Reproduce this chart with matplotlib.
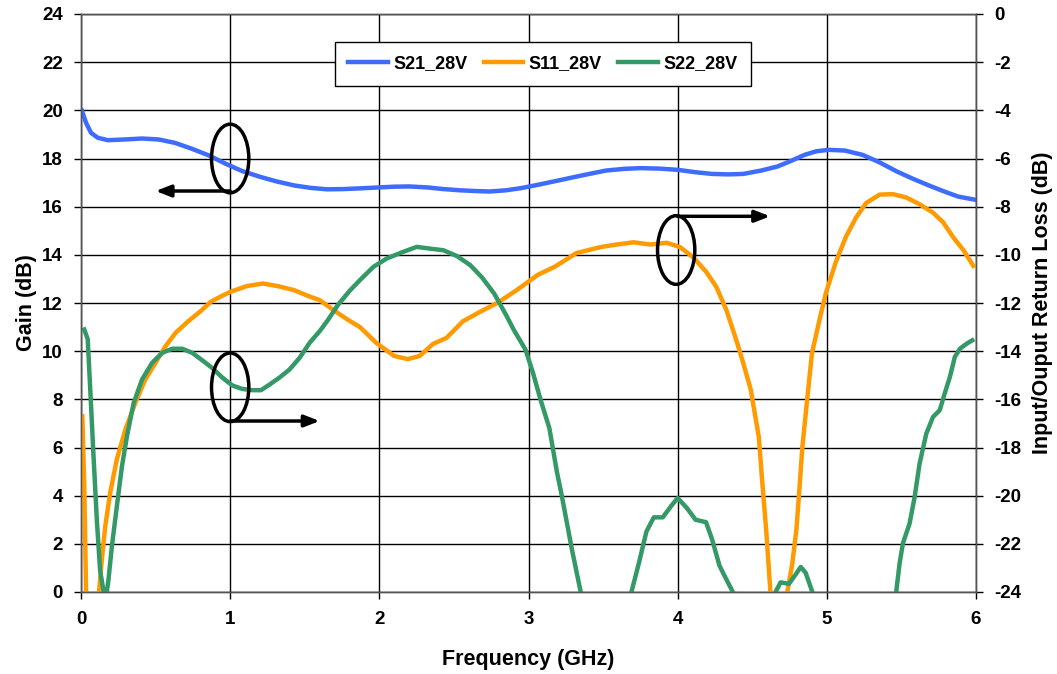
import matplotlib
matplotlib.use("Agg")
import matplotlib.pyplot as plt
from matplotlib.patches import Ellipse

plt.rcParams['font.family'] = ['Liberation Sans', 'DejaVu Sans']
plt.rcParams['font.weight'] = 'bold'
plt.rcParams['axes.unicode_minus'] = False

# ---- data ----
freq_s21 = [0.005, 0.034, 0.068, 0.113, 0.18, 0.29, 0.41, 0.52, 0.63, 0.745, 0.86, 0.97, 1.08,
            1.2, 1.31, 1.43, 1.54, 1.65, 1.76, 1.87, 2.0, 2.1, 2.2, 2.32, 2.43, 2.54, 2.64, 2.74,
            2.85, 2.95, 3.08, 3.21, 3.36, 3.52, 3.64, 3.75, 3.88, 4.0, 4.12, 4.23, 4.34, 4.44,
            4.56, 4.67, 4.76, 4.85, 4.93, 5.01, 5.12, 5.24, 5.35, 5.47, 5.58, 5.7, 5.8, 5.88, 6.0]
gain_s21 = [20.0, 19.48, 19.06, 18.86, 18.76, 18.79, 18.83, 18.79, 18.65, 18.4, 18.12, 17.78,
            17.48, 17.24, 17.05, 16.88, 16.78, 16.72, 16.73, 16.76, 16.8, 16.83, 16.84, 16.8,
            16.73, 16.68, 16.65, 16.63, 16.68, 16.77, 16.93, 17.1, 17.3, 17.5, 17.57, 17.6,
            17.58, 17.53, 17.43, 17.36, 17.34, 17.36, 17.5, 17.67, 17.9, 18.15, 18.3, 18.36,
            18.33, 18.15, 17.85, 17.46, 17.15, 16.84, 16.6, 16.42, 16.28]

freq_s11 = [0.009, 0.022, 0.034, 0.05, 0.1, 0.121, 0.139, 0.162, 0.195, 0.24, 0.297, 0.364,
            0.431, 0.499, 0.566, 0.634, 0.72, 0.8, 0.87, 0.94, 1.0, 1.11, 1.22, 1.32, 1.43, 1.52,
            1.6, 1.71, 1.79, 1.87, 1.98, 2.1, 2.19, 2.27, 2.36, 2.45, 2.56, 2.68, 2.79, 2.92,
            3.06, 3.18, 3.32, 3.482, 3.593, 3.704, 3.816, 3.927, 4.016, 4.104, 4.193, 4.26,
            4.327, 4.393, 4.44, 4.49, 4.544, 4.566, 4.593, 4.622, 4.65, 4.71, 4.735, 4.769,
            4.796, 4.813, 4.836, 4.87, 4.9, 4.95, 4.993, 5.06, 5.128, 5.196, 5.263, 5.353,
            5.443, 5.533, 5.622, 5.712, 5.78, 5.847, 5.915, 5.982]
rl_s11 = [-16.7, -19.6, -24.0, -27.0, -27.0, -24.0, -22.7, -21.3, -19.9, -18.5, -17.26, -16.15,
          -15.18, -14.49, -13.8, -13.24, -12.75, -12.35, -11.95, -11.72, -11.54, -11.3, -11.19,
          -11.3, -11.47, -11.7, -11.88, -12.37, -12.7, -13.0, -13.66, -14.2, -14.33, -14.2,
          -13.7, -13.45, -12.76, -12.35, -12.0, -11.47, -10.84, -10.48, -9.93, -9.68, -9.57,
          -9.48, -9.57, -9.5, -9.68, -10.1, -10.72, -11.34, -12.3, -13.54, -14.5, -15.6,
          -17.56, -19.35, -21.4, -24.0, -27.0, -27.0, -24.0, -22.8, -21.4, -20.0, -17.97,
          -15.9, -14.1, -12.72, -11.6, -10.3, -9.25, -8.45, -7.85, -7.5, -7.48, -7.62, -7.9,
          -8.25, -8.65, -9.27, -9.8, -10.46]

freq_s22 = [0.022, 0.045, 0.061, 0.083, 0.106, 0.128, 0.15, 0.166, 0.184, 0.207, 0.24, 0.274,
            0.308, 0.353, 0.409, 0.476, 0.544, 0.611, 0.679, 0.746, 0.813, 0.88, 0.948, 1.016,
            1.083, 1.15, 1.207, 1.263, 1.33, 1.398, 1.465, 1.533, 1.6, 1.656, 1.72, 1.8, 1.87,
            1.96, 2.05, 2.15, 2.25, 2.35, 2.43, 2.52, 2.61, 2.69, 2.77, 2.85, 2.9, 2.98, 3.03,
            3.08, 3.14, 3.19, 3.22, 3.29, 3.35, 3.4, 3.65, 3.69, 3.74, 3.79, 3.84, 3.9, 3.96,
            4.0, 4.06, 4.12, 4.19, 4.23, 4.28, 4.32, 4.37, 4.42, 4.62, 4.656, 4.69, 4.746, 4.79,
            4.825, 4.858, 4.903, 4.95, 5.42, 5.465, 5.488, 5.51, 5.555, 5.589, 5.622, 5.667,
            5.712, 5.757, 5.79, 5.825, 5.858, 5.892, 5.937, 5.975]
rl_s22 = [-13.1, -13.5, -15.46, -18.24, -21.0, -23.1, -23.93, -24.3, -23.5, -22.1, -20.46,
          -18.8, -17.54, -16.15, -15.18, -14.49, -14.07, -13.9, -13.9, -14.07, -14.38, -14.7,
          -15.1, -15.43, -15.57, -15.62, -15.62, -15.39, -15.1, -14.76, -14.28, -13.65,
          -13.17, -12.7, -12.1, -11.5, -11.05, -10.5, -10.15, -9.9, -9.67, -9.75, -9.81,
          -10.05, -10.43, -10.95, -11.61, -12.5, -13.1, -13.94, -14.9, -16.0, -17.2, -19.0,
          -19.9, -22.2, -24.0, -26.0, -26.0, -24.0, -22.8, -21.5, -20.9, -20.9, -20.4, -20.1,
          -20.5, -21.0, -21.1, -21.8, -22.9, -23.4, -24.0, -26.0, -26.0, -24.0, -23.6, -23.66,
          -23.28, -22.96, -23.2, -24.0, -26.0, -26.0, -24.0, -22.8, -21.98, -21.15, -20.04,
          -18.66, -17.42, -16.73, -16.45, -15.76, -15.07, -14.24, -13.9, -13.69, -13.55]

series_names = ['S21_28V', 'S11_28V', 'S22_28V']
colors = ['#3d6cff', '#ff9a00', '#339966']

x_ticks = [0, 1, 2, 3, 4, 5, 6]
gain_ticks = list(range(0, 25, 2))
rl_ticks = list(range(-24, 1, 2))

# annotation ellipses (center freq, center gain) and arrows (start, end) in gain units
ellipse_centers = [(1.0, 18.0), (1.0, 8.5), (3.99, 14.2)]
arrows = [((1.0, 16.65), (0.5, 16.65)), ((1.0, 7.1), (1.6, 7.1)), ((4.0, 15.6), (4.62, 15.6))]

# ---- figure ----
fig = plt.figure(figsize=(10.57, 6.74), dpi=100)
ax = fig.add_axes([81/1057, 1 - 592/674, (976 - 81)/1057, (592 - 14)/674])
ax2 = ax.twinx()

ax.set_xlim(0, 6)
ax.set_ylim(0, 24)
ax2.set_ylim(-24, 0)
ax.set_xticks(x_ticks)
ax.set_yticks(gain_ticks)
ax2.set_yticks(rl_ticks)
ax.grid(True, color='black', linewidth=1.0)
ax.set_axisbelow(True)

l1, = ax.plot(freq_s21, gain_s21, color=colors[0], lw=3.2, solid_joinstyle='round')
l2, = ax2.plot(freq_s11, rl_s11, color=colors[1], lw=3.2, solid_joinstyle='round')
l3, = ax2.plot(freq_s22, rl_s22, color=colors[2], lw=3.2, solid_joinstyle='round')

for (cx, cy) in ellipse_centers:
    ax2.add_patch(Ellipse((cx, cy - 24), 0.25, 2.85, fill=False, edgecolor='black', lw=2.5, zorder=5))
for (start, end) in arrows:
    ax2.annotate('', xy=(end[0], end[1] - 24), xytext=(start[0], start[1] - 24),
                 arrowprops=dict(arrowstyle='-|>,head_length=0.9,head_width=0.35',
                                 lw=2.5, color='black', shrinkA=0, shrinkB=0), zorder=6)

for a in (ax, ax2):
    for s in a.spines.values():
        s.set_color('#555555')
        s.set_linewidth(1.0)
ax.tick_params(axis='both', direction='out', length=5, width=1, labelsize=13.5)
ax.tick_params(axis='x', pad=9)
ax.tick_params(axis='y', pad=8)
ax2.tick_params(axis='y', direction='out', length=5, width=1, labelsize=13.5, pad=8)
for lab in ax.get_xticklabels() + ax.get_yticklabels() + ax2.get_yticklabels():
    lab.set_fontweight('bold')

ax.set_xlabel('Frequency (GHz)', fontsize=15.5, fontweight='bold', labelpad=15)
ax.set_ylabel('Gain (dB)', fontsize=15.5, fontweight='bold', labelpad=4)
ax2.set_ylabel('Input/Ouput Return Loss (dB)', fontsize=15.5, fontweight='bold', labelpad=8)

leg = ax2.legend([l1, l2, l3], series_names, loc='upper center', bbox_to_anchor=(0.516, 0.9516),
                 ncol=3, frameon=True, fancybox=False, framealpha=1, edgecolor='black',
                 prop={'weight': 'bold', 'size': 13}, handlelength=2.2, columnspacing=0.9,
                 borderpad=0.75, handletextpad=0.3, borderaxespad=0)
leg.get_frame().set_linewidth(1.0)
leg.set_zorder(10)

fig.savefig('out.png', dpi=100)
